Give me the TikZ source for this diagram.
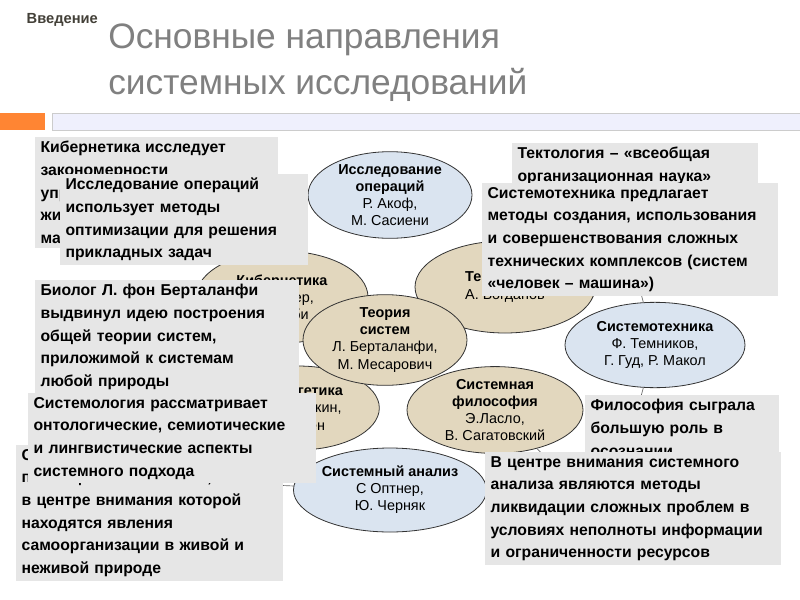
\documentclass[tikz,border=0pt]{standalone}
\usepackage{fontspec}
\setmainfont{Liberation Sans}
\usetikzlibrary{shapes.geometric}
\definecolor{ebl}{HTML}{DAE4F0}
\definecolor{etn}{HTML}{E2D7BE}
\definecolor{bgr}{HTML}{E6E6E6}
\definecolor{ttl}{HTML}{808080}
\tikzset{
 ell/.style={ellipse,draw=black!80,line width=0.6pt,align=center,inner sep=0pt,font=\fontsize{10.8}{12.8}\selectfont},
 bx/.style={fill=bgr,anchor=north west,inner xsep=4pt,inner ysep=3pt,align=left,font=\fontsize{11.8}{17}\selectfont\bfseries},
 ln/.style={draw=black!60,line width=0.5pt}
}
\begin{document}
\begin{tikzpicture}[x=0.75pt,y=-0.75pt]
\useasboundingbox (0,0) rectangle (800,600);
\fill[white] (0,0) rectangle (800,600);
\node[anchor=west,font=\fontsize{11}{12}\selectfont\bfseries,text=black!75!yellow!60!black] (intro) at (22,20) {Введение};
\node[anchor=north west,align=left,text=ttl,font=\fontsize{26.5}{34}\selectfont,inner sep=0pt] (title) at (108,24) {Основные направления\\системных исследований};
\fill[orange!80!red!80] (0,113) rectangle (45,130);
\filldraw[fill=ebl!80!blue!20,draw=black!20] (52,113) rectangle (800,130);
% ellipses
\node[ell,fill=ebl,minimum width=123pt,minimum height=63pt] (io) at (390,195) {\textbf{Исследование}\\\textbf{операций}\\Р. Акоф,\\М. Сасиени};
\node[ell,fill=etn,minimum width=129pt,minimum height=69pt] (kib) at (282,297) {\textbf{Кибернетика}\\Н. Винер,\\У. Эшби};
\node[ell,fill=etn,minimum width=135pt,minimum height=69pt] (tek) at (505,287) {\textbf{Тектология}\\А. Богданов};
\node[ell,fill=etn,minimum width=122pt,minimum height=63pt] (sin) at (298,408) {\textbf{Синергетика}\\И. Пригожин,\\Г. Хакен};
\node[ell,fill=etn,minimum width=132pt,minimum height=63pt] (fil) at (495,410) {\textbf{Системная}\\\textbf{философия}\\Э.Ласло,\\В. Сагатовский};
\node[ell,fill=etn,minimum width=123pt,minimum height=68pt] (ts) at (385,340) {\textbf{Теория}\\\textbf{систем}\\Л. Берталанфи,\\М. Месарович};
\node[ell,fill=ebl,minimum width=128pt,minimum height=63pt] (sa) at (390,490) {\textbf{Системный анализ}\\С Оптнер,\\Ю. Черняк};
\node[ell,fill=ebl,minimum width=135pt,minimum height=64pt] (ste) at (655,345) {\textbf{Системотехника}\\Ф. Темников,\\Г. Гуд, Р. Макол};
% connector ends
\coordinate (c1) at (150,290);
\coordinate (c2) at (640,290);
\coordinate (c3) at (640,400);
\coordinate (c4) at (270,485);
\coordinate (c5) at (560,470);
\coordinate (c6) at (520,170);
\draw[ln] (kib) -- (c1);
\draw[ln] (ste) -- (c2);
\draw[ln] (ste) -- (c3);
\draw[ln] (sa) -- (c4);
\draw[ln] (fil) -- (c5);
\draw[ln] (tek) -- (c6);
% boxes
\node[bx,text width=174pt] (b1) at (35,137) {Кибернетика исследует\\закономерности\\управления и связи в\\живых организмах и\\машинах};
\node[bx,text width=178pt] (b2) at (60,174) {Исследование операций\\использует методы\\оптимизации для решения\\прикладных задач};
\node[bx,text width=176pt] (b3) at (512,143) {Тектология – «всеобщая\\организационная наука»};
\node[bx,text width=214pt] (b4) at (482,183) {Системотехника предлагает\\методы создания, использования\\и совершенствования сложных\\технических комплексов (систем\\«человек – машина»)};
\node[bx,text width=190pt] (b5) at (35,280) {Биолог Л. фон Берталанфи\\выдвинул идею построения\\общей теории систем,\\приложимой к системам\\любой природы};
\node[bx,text width=192pt] (b7) at (16,445) {Синергетика – теория,\\посвящённая системам,\\в центре внимания которой\\находятся явления\\самоорганизации в живой и\\неживой природе};
\node[bx,text width=208pt] (b6) at (28,393) {Системология рассматривает\\онтологические, семиотические\\и лингвистические аспекты\\системного подхода};
\node[bx,text width=137pt] (b8) at (585,395) {Философия сыграла\\большую роль в\\осознании};
\node[bx,text width=214pt] (b9) at (485,452) {В центре внимания системного\\анализа являются методы\\ликвидации сложных проблем в\\условиях неполноты информации\\и ограниченности ресурсов};
\end{tikzpicture}
\end{document}
